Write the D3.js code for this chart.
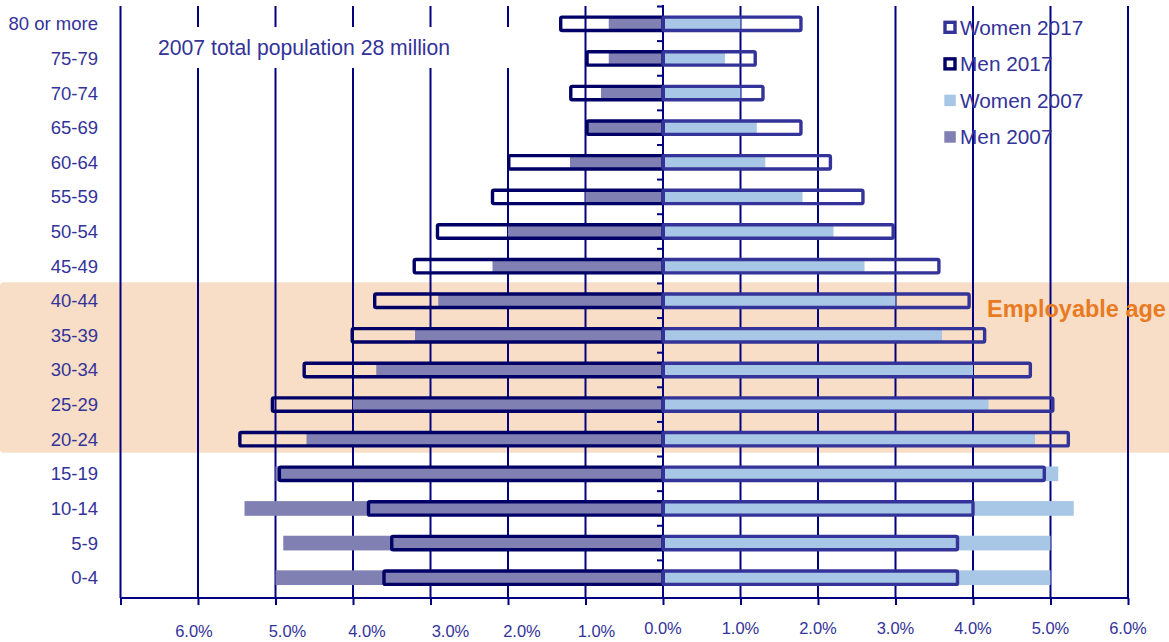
<!DOCTYPE html>
<html>
<head>
<meta charset="utf-8">
<script src="https://cdn.jsdelivr.net/npm/d3@7/dist/d3.min.js"></script>
<style>
  html, body { margin: 0; padding: 0; background: #ffffff; }
  svg { display: block; font-family: "Liberation Sans", Arial, sans-serif; }
</style>
</head>
<body>
<svg id="chart" width="1169" height="642"></svg>
<script>
// Age groups, youngest at the bottom
const categories = ["0-4", "5-9", "10-14", "15-19", "20-24", "25-29", "30-34", "35-39",
  "40-44", "45-49", "50-54", "55-59", "60-64", "65-69", "70-74", "75-79", "80 or more"];

// Share of total population, percent
const men2007   = [5.0, 4.9, 5.4, 5.0, 4.6, 4.0, 3.7, 3.2, 2.9, 2.2, 2.0, 1.0, 1.2, 0.97, 0.8, 0.7, 0.7];
const women2007 = [5.0, 5.0, 5.3, 5.1, 4.8, 4.2, 4.0, 3.6, 3.0, 2.6, 2.2, 1.8, 1.32, 1.21, 1.0, 0.8, 1.0];
const men2017   = [3.6, 3.5, 3.8, 4.95, 5.46, 5.04, 4.63, 4.01, 3.72, 3.21, 2.91, 2.2, 1.99, 0.98, 1.19, 0.98, 1.32];
const women2017 = [3.8, 3.8, 4.0, 4.92, 5.23, 5.03, 4.74, 4.15, 3.95, 3.56, 2.97, 2.58, 2.16, 1.78, 1.29, 1.19, 1.78];

// Axis ticks (percent), left side shown as positive values
const tickValues = [-6, -5, -4, -3, -2, -1, 0, 1, 2, 3, 4, 5, 6];
const employableGroups = ["20-24", "25-29", "30-34", "35-39", "40-44"];
const legendItems = ["Women 2017", "Men 2017", "Women 2007", "Men 2007"];
const noteText = "2007 total population 28 million";
const bandText = "Employable age";

const C = {
  text: "#333399",
  grid: "#000080",
  men07: "#8080B3",
  women07: "#A8C6E5",
  men17: "#000066",
  women17: "#333399",
  band: "#F8DEC7",
  orange: "#E87B22"
};

const svg = d3.select("#chart");
const plotTop = 6, plotBottom = 598;
const rowTop = 6.5, rowBottom = 595;

const x = d3.scaleLinear().domain([-7, 6]).range([120.5, 1128]);
const y = d3.scaleBand().domain(categories).range([rowBottom, rowTop]).paddingInner(0).paddingOuter(0);
const bw = y.bandwidth();
const x0 = x(0);

// Highlighted working-age band
const bandTop = y(employableGroups[employableGroups.length - 1]) - 1.3;
const bandBottom = y(employableGroups[0]) + bw * 0.89;
svg.append("rect")
  .attr("x", 0).attr("y", bandTop)
  .attr("width", 1180).attr("height", bandBottom - bandTop)
  .attr("rx", 4)
  .attr("fill", C.band);

// Vertical gridlines every 1%
const gridVals = d3.range(-7, 7).filter(v => v !== 0);
svg.append("g").selectAll("line").data(gridVals).join("line")
  .attr("x1", d => x(d)).attr("x2", d => x(d))
  .attr("y1", plotTop).attr("y2", plotBottom)
  .attr("stroke", C.grid).attr("stroke-width", 2);

// Note box sits over the gridlines
svg.append("rect")
  .attr("x", 150).attr("y", 27).attr("width", 392).attr("height", 41)
  .attr("fill", "#ffffff");
svg.append("text")
  .attr("x", 158).attr("y", 54.5)
  .attr("font-size", 21.2).attr("fill", C.text)
  .text(noteText);

// 2007 filled bars
const fillH = 14.7;
const g07 = svg.append("g");
g07.selectAll("rect.m07").data(categories).join("rect")
  .attr("class", "m07")
  .attr("x", (d, i) => x(-men2007[i]))
  .attr("width", (d, i) => x0 - x(-men2007[i]))
  .attr("y", d => y(d) + (bw - fillH) / 2)
  .attr("height", fillH)
  .attr("fill", C.men07);
g07.selectAll("rect.w07").data(categories).join("rect")
  .attr("class", "w07")
  .attr("x", x0)
  .attr("width", (d, i) => x(women2007[i]) - x0)
  .attr("y", d => y(d) + (bw - fillH) / 2)
  .attr("height", fillH)
  .attr("fill", C.women07);

// Central axis with category ticks
svg.append("line")
  .attr("x1", x0).attr("x2", x0).attr("y1", plotTop - 1).attr("y2", plotBottom)
  .attr("stroke", C.grid).attr("stroke-width", 2);
const boundaries = categories.map(c => y(c));
svg.append("g").selectAll("line").data(boundaries).join("line")
  .attr("x1", x0 - 6).attr("x2", x0)
  .attr("y1", d => d).attr("y2", d => d)
  .attr("stroke", C.grid).attr("stroke-width", 2);

// 2017 outlined bars
const outH = 13.4, sw = 3.4;
const g17 = svg.append("g").attr("fill", "none").attr("stroke-width", sw);
g17.selectAll("rect.m17").data(categories).join("rect")
  .attr("class", "m17")
  .attr("x", (d, i) => x(-men2017[i]))
  .attr("width", (d, i) => x0 - x(-men2017[i]))
  .attr("y", d => y(d) + (bw - outH) / 2)
  .attr("height", outH)
  .attr("rx", 1.5)
  .attr("stroke", C.men17);
g17.selectAll("rect.w17").data(categories).join("rect")
  .attr("class", "w17")
  .attr("x", x0)
  .attr("width", (d, i) => x(women2017[i]) - x0)
  .attr("y", d => y(d) + (bw - outH) / 2)
  .attr("height", outH)
  .attr("rx", 1.5)
  .attr("stroke", C.women17);

// Bottom axis
const xAxis = d3.axisBottom(x)
  .tickValues(d3.range(-7, 7))
  .tickSize(7)
  .tickFormat("");
const ax = svg.append("g").attr("transform", `translate(0,${plotBottom})`).call(xAxis);
ax.select(".domain").attr("stroke", C.grid).attr("stroke-width", 2)
  .attr("d", `M${x(-7)},0H${x(6)}`);
ax.selectAll(".tick line").attr("stroke", C.grid).attr("stroke-width", 2);

// Tick labels; the left-hand labels sit slightly offset from their gridlines
const leftNudge = { "-6": -4, "-5": 12, "-4": 14, "-3": 20, "-2": 14, "-1": 11 };
svg.append("g").selectAll("text").data(tickValues).join("text")
  .attr("x", d => x(d) + (leftNudge[d] || 0))
  .attr("y", d => d < 0 ? 637 : 634)
  .attr("text-anchor", "middle")
  .attr("font-size", 16.5).attr("fill", C.text)
  .text(d => d3.format(".1f")(Math.abs(d)) + "%");

// Category labels
svg.append("g").selectAll("text").data(categories).join("text")
  .attr("x", 98)
  .attr("y", d => y(d) + bw / 2)
  .attr("dy", "0.35em")
  .attr("text-anchor", "end")
  .attr("font-size", 18.5).attr("fill", C.text)
  .text(d => d);

// Band label
svg.append("text")
  .attr("x", 987).attr("y", 317)
  .attr("font-size", 23.5).attr("font-weight", "bold")
  .attr("fill", C.orange)
  .text(bandText);

// Legend
const legendY = d3.scaleLinear().domain([0, 3]).range([27.3, 137]);
const lg = svg.append("g");
legendItems.forEach((name, i) => {
  const cy = legendY(i);
  if (i < 2) {
    lg.append("rect")
      .attr("x", 945).attr("y", cy - 5).attr("width", 10).attr("height", 10)
      .attr("fill", "none").attr("stroke-width", 3.4)
      .attr("stroke", i === 0 ? C.women17 : C.men17);
  } else {
    lg.append("rect")
      .attr("x", 944.3).attr("y", cy - 5.8).attr("width", 11.5).attr("height", 11.5)
      .attr("fill", i === 2 ? C.women07 : C.men07);
  }
  lg.append("text")
    .attr("x", 960).attr("y", cy + 7.4)
    .attr("font-size", 20.8).attr("fill", C.text)
    .text(name);
});
</script>
</body>
</html>
